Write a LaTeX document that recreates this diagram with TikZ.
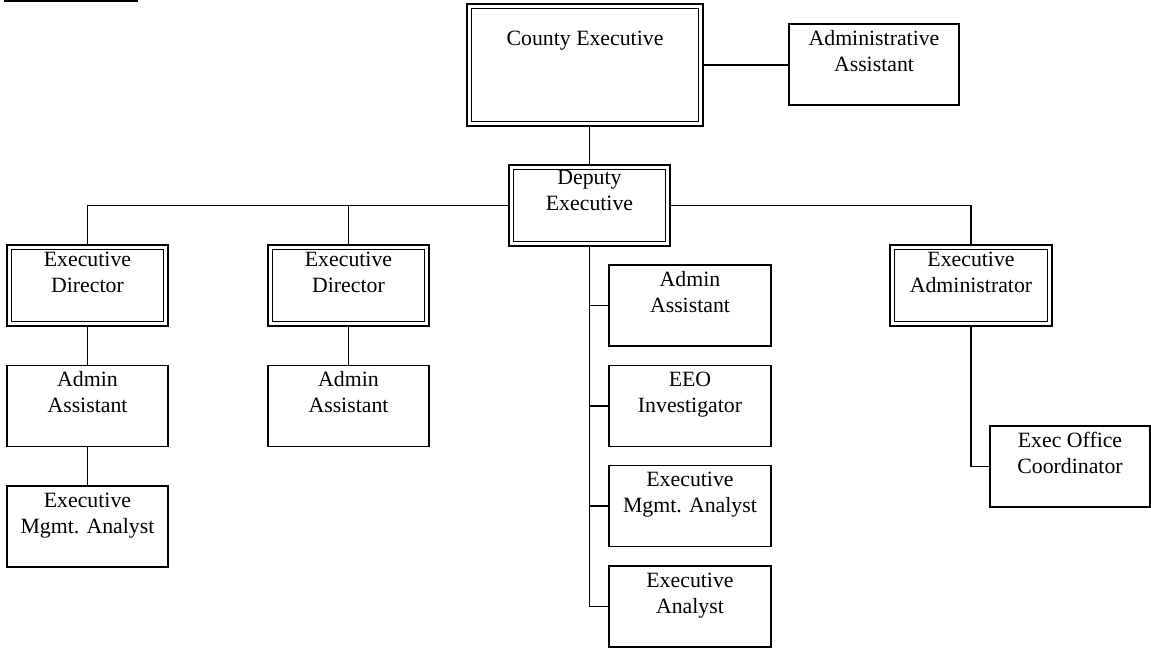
\documentclass[tikz,border=0pt]{standalone}
\usepackage{fontspec}
\setmainfont{Liberation Serif}
\newcommand\boxlines[1]{\parbox[t]{200pt}{\centering #1}}
\begin{document}
\begin{tikzpicture}[x=1pt,y=-1pt,
  unit/.style={draw, line width=1.2pt, inner sep=0pt, outer sep=0pt,
    minimum width=161pt, minimum height=81pt},
  lead/.style={draw, line width=1.2pt, double, double distance=3.2pt,
    inner sep=0pt, outer sep=2.2pt,
    minimum width=156.6pt, minimum height=76.6pt},
  txt/.style={anchor=base, inner sep=0pt, font=\fontsize{21.8}{26}\selectfont},
  link/.style={line width=1.2pt}]
\useasboundingbox (0,0) rectangle (1151,648);

% title rule
\draw[line width=2pt] (4,1) -- (138,1);

% leadership boxes (double border)
\node[lead, minimum width=231.6pt, minimum height=117.6pt] (ce) at (585,65) {};
\node[lead] (de)  at (589.5,205.5) {};
\node[lead] (ed1) at (87.5,285.5) {};
\node[lead] (ed2) at (348.5,285.5) {};
\node[lead, minimum width=157.6pt] (ea) at (971,285.5) {};

% staff boxes
\node[unit, minimum width=170pt] (aa0) at (874,64.5) {};
\node[unit] (aa1)  at (87.5,406) {};
\node[unit] (ema1) at (87.5,526.5) {};
\node[unit] (aa2)  at (348.5,406) {};
\node[unit, minimum width=162pt] (m1) at (690,305.5) {};
\node[unit, minimum width=162pt] (m2) at (690,406) {};
\node[unit, minimum width=162pt] (m3) at (690,506) {};
\node[unit, minimum width=162pt] (m4) at (690,606.5) {};
\node[unit, minimum width=160pt] (eoc) at (1070,466.5) {};

% box texts
\node[txt] (ce-t)  at ([yshift=-41pt]ce.north)  {\boxlines{County Executive}};
\node[txt] (de-t)  at ([yshift=-19pt]de.north)  {\boxlines{Deputy\\Executive}};
\node[txt] (ed1-t) at ([yshift=-21pt]ed1.north) {\boxlines{Executive\\Director}};
\node[txt] (ed2-t) at ([yshift=-21pt]ed2.north) {\boxlines{Executive\\Director}};
\node[txt] (ea-t)  at ([yshift=-21pt]ea.north)  {\boxlines{Executive\\Administrator}};
\node[txt] (aa0-t) at ([yshift=-21pt]aa0.north) {\boxlines{Administrative\\Assistant}};
\node[txt] (aa1-t) at ([yshift=-21pt]aa1.north) {\boxlines{Admin\\Assistant}};
\node[txt] (ema1-t) at ([yshift=-21pt]ema1.north) {\boxlines{Executive\\Mgmt. Analyst}};
\node[txt] (aa2-t) at ([yshift=-21pt]aa2.north) {\boxlines{Admin\\Assistant}};
\node[txt] (m1-t)  at ([yshift=-21pt]m1.north)  {\boxlines{Admin\\Assistant}};
\node[txt] (m2-t)  at ([yshift=-21pt]m2.north)  {\boxlines{EEO\\Investigator}};
\node[txt] (m3-t)  at ([yshift=-21pt]m3.north)  {\boxlines{Executive\\Mgmt. Analyst}};
\node[txt] (m4-t)  at ([yshift=-21pt]m4.north)  {\boxlines{Executive\\Analyst}};
\node[txt] (eoc-t) at ([yshift=-21pt]eoc.north) {\boxlines{Exec Office\\Coordinator}};

% connectors
\draw[link] (ce.east) -- (ce.east -| aa0.west);
\draw[link] (ce.south -| de.north) -- (de.north);
\draw[link] (de.west) -| (ed1.north);
\draw[link] (ed2.north) -- (ed2.north |- de.west);
\draw[link] (de.east) -| (ea.north);
\draw[link] (ed1.south) -- (aa1.north);
\draw[link] (aa1.south) -- (ema1.north);
\draw[link] (ed2.south) -- (aa2.north);
\draw[link] (de.south) |- (m4.west);
\draw[link] (m1.west) -- (m1.west -| de.south);
\draw[link] (m2.west) -- (m2.west -| de.south);
\draw[link] (m3.west) -- (m3.west -| de.south);
\draw[link] (ea.south) |- (eoc.west);
\end{tikzpicture}
\end{document}
